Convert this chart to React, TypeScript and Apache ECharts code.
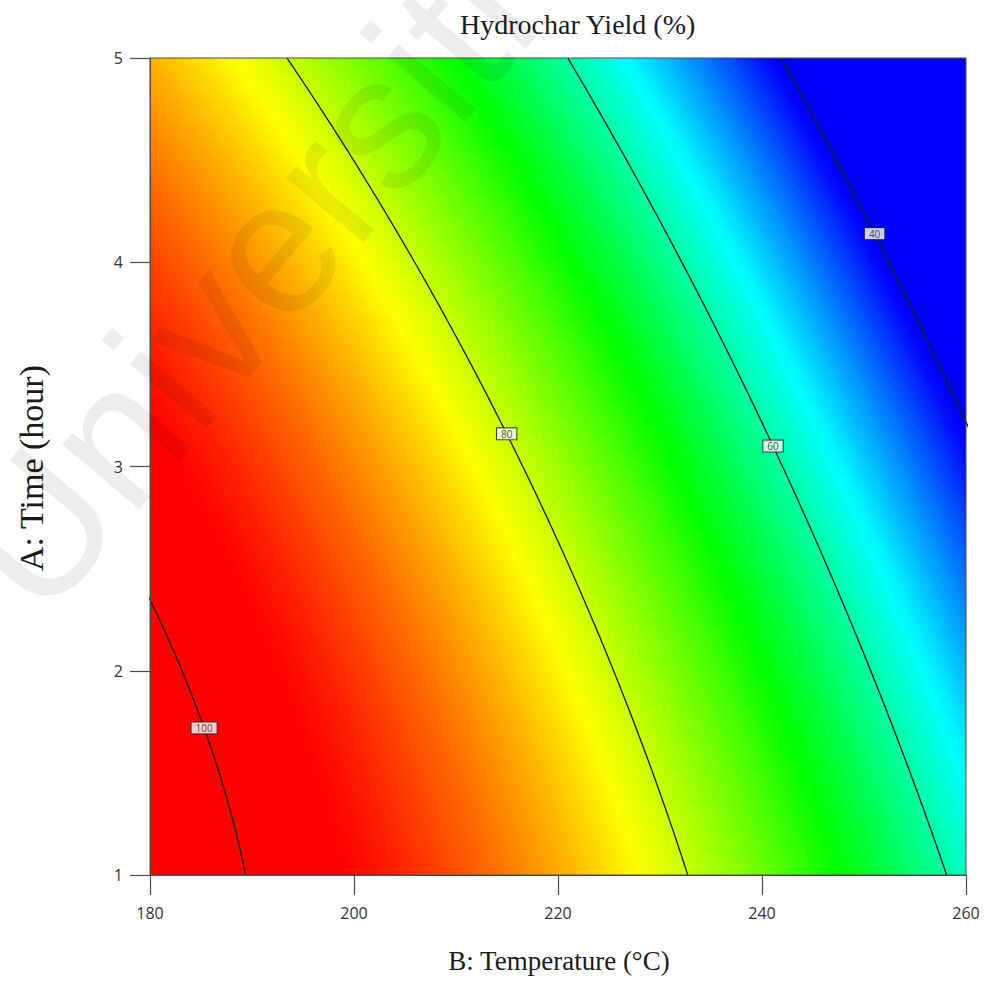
import React, { useEffect, useRef } from "react";
import * as echarts from "echarts";

// Axis ticks
const temperatureTicks = [180, 200, 220, 240, 260];
const timeTicks = [1, 2, 3, 4, 5];

// Contour levels of hydrochar yield (%) and the time (h) at which each label sits
const contourLevels = [100, 80, 60, 40];
const contourLabelTimes = [1.72, 3.16, 3.1, 4.14];

// Quadratic response surface in coded units: B = (T - 220) / 40, A = (t - 3) / 2
const modelTerms = ["Intercept", "B", "A", "AB", "B^2", "A^2"];
const modelCoefficients = [77.65, -27.89, -13.45, -6.03, -7.6, -3.38];

// Colour scale: yield anchors and their colours (blue -> cyan -> green -> yellow -> red)
const colourAnchors = [41, 55, 69, 83, 97];
const colourRGB = [
  [0, 0, 255],
  [0, 255, 255],
  [0, 255, 0],
  [255, 255, 0],
  [255, 0, 0],
];

const T_MIN = temperatureTicks[0];
const T_MAX = temperatureTicks[temperatureTicks.length - 1];
const t_MIN = timeTicks[0];
const t_MAX = timeTicks[timeTicks.length - 1];

const coef = (name: string) => modelCoefficients[modelTerms.indexOf(name)];

function yieldAt(T: number, t: number): number {
  const b = (T - 220) / 40;
  const a = (t - 3) / 2;
  return (
    coef("Intercept") +
    coef("B") * b +
    coef("A") * a +
    coef("AB") * a * b +
    coef("B^2") * b * b +
    coef("A^2") * a * a
  );
}

// Temperature where the surface equals `level` at time t
function temperatureOnContour(level: number, t: number): number | null {
  const a = (t - 3) / 2;
  const qa = coef("B^2");
  const qb = coef("B") + coef("AB") * a;
  const qc = coef("Intercept") + coef("A") * a + coef("A^2") * a * a - level;
  const disc = qb * qb - 4 * qa * qc;
  if (disc < 0) return null;
  const r1 = (-qb + Math.sqrt(disc)) / (2 * qa);
  const r2 = (-qb - Math.sqrt(disc)) / (2 * qa);
  const b = Math.abs(r1) < Math.abs(r2) ? r1 : r2;
  return 220 + 40 * b;
}

function colourFor(v: number): string {
  const n = colourAnchors.length;
  if (v <= colourAnchors[0]) return `rgb(${colourRGB[0].join(",")})`;
  if (v >= colourAnchors[n - 1]) return `rgb(${colourRGB[n - 1].join(",")})`;
  let i = 0;
  while (v > colourAnchors[i + 1]) i++;
  const f = (v - colourAnchors[i]) / (colourAnchors[i + 1] - colourAnchors[i]);
  const c = colourRGB[i].map((c0, k) => Math.round(c0 + (colourRGB[i + 1][k] - c0) * f));
  return `rgb(${c.join(",")})`;
}

export default function App() {
  const ref = useRef<HTMLDivElement>(null);

  useEffect(() => {
    if (!ref.current) return;
    const chart = echarts.init(ref.current, null, { renderer: "svg" });

    // Colour field drawn as thin horizontal bands, each with a gradient across temperature
    const bandStep = 0.02;
    const bandRows: number[][] = [];
    for (let i = 0; i <= Math.round((t_MAX - t_MIN) / bandStep); i++) {
      bandRows.push([T_MIN, t_MIN + i * bandStep]);
    }
    const gradientSamples = 80;

    const contourSeries = contourLevels.map((level) => {
      const pts: number[][] = [];
      for (let i = 0; i <= 400; i++) {
        const t = t_MIN + (i * (t_MAX - t_MIN)) / 400;
        const T = temperatureOnContour(level, t);
        if (T !== null && T > T_MIN - 15 && T < T_MAX + 15) pts.push([T, t]);
      }
      return {
        type: "line",
        data: pts,
        showSymbol: false,
        symbol: "none",
        clip: true,
        z: 3,
        silent: true,
        lineStyle: { color: "#1c1c1c", width: 1.3 },
      };
    });

    const labelPoints = contourLevels.map((level, i) => {
      const t = contourLabelTimes[i];
      const T = temperatureOnContour(level, t) as number;
      return [T, t, level];
    });

    const option: any = {
      animation: false,
      backgroundColor: "#ffffff",
      grid: {
        left: 150,
        top: 58,
        width: 816,
        height: 817,
        show: true,
        borderColor: "#4a4a4a",
        borderWidth: 1,
        backgroundColor: "transparent",
        z: 4,
      },
      xAxis: {
        type: "value",
        min: T_MIN,
        max: T_MAX,
        interval: 20,
        axisLine: { show: true, lineStyle: { color: "#4a4a4a", width: 1 } },
        axisTick: { show: true, inside: false, length: 20, lineStyle: { color: "#4a4a4a", width: 1.2 } },
        axisLabel: {
          margin: 30,
          color: "#333",
          fontFamily: "Open Sans",
          fontSize: 16,
        },
        splitLine: { show: false },
        z: 5,
      },
      yAxis: {
        type: "value",
        min: t_MIN,
        max: t_MAX,
        interval: 1,
        axisLine: { show: true, lineStyle: { color: "#4a4a4a", width: 1 } },
        axisTick: { show: true, inside: false, length: 20, lineStyle: { color: "#4a4a4a", width: 1.2 } },
        axisLabel: {
          margin: 27,
          color: "#333",
          fontFamily: "Open Sans",
          fontSize: 16,
        },
        splitLine: { show: false },
        z: 5,
      },
      series: [
        {
          type: "custom",
          data: bandRows,
          clip: true,
          silent: true,
          z: 1,
          renderItem: (params: any, api: any) => {
            const t = api.value(1);
            const top = api.coord([T_MIN, t + bandStep / 2]);
            const bottom = api.coord([T_MAX, t - bandStep / 2]);
            const stops = [];
            for (let k = 0; k <= gradientSamples; k++) {
              const T = T_MIN + ((T_MAX - T_MIN) * k) / gradientSamples;
              stops.push({ offset: k / gradientSamples, color: colourFor(yieldAt(T, t)) });
            }
            return {
              type: "rect",
              shape: {
                x: top[0],
                y: top[1] - 0.6,
                width: bottom[0] - top[0],
                height: bottom[1] - top[1] + 1.2,
              },
              style: { fill: new echarts.graphic.LinearGradient(0, 0, 1, 0, stops), stroke: null },
            };
          },
        },
        ...contourSeries,
        {
          type: "scatter",
          data: labelPoints,
          symbolSize: 1,
          itemStyle: { color: "transparent" },
          z: 6,
          silent: true,
          label: {
            show: true,
            position: "inside",
            formatter: (p: any) => String(p.value[2]),
            fontFamily: "Open Sans",
            fontSize: 10,
            color: "#1a1a1a",
            backgroundColor: "#ffffff",
            borderColor: "#222",
            borderWidth: 1,
            padding: [1, 4, 0, 4],
          },
        },
      ],
      graphic: [
        {
          type: "text",
          left: 460,
          top: 10,
          style: {
            text: "Hydrochar Yield (%)",
            font: "28px 'Liberation Serif'",
            fill: "#1a1a1a",
          },
        },
        {
          type: "text",
          x: 559,
          y: 961,
          style: {
            text: "B: Temperature (°C)",
            font: "27px 'Liberation Serif'",
            fill: "#1a1a1a",
            align: "center",
            verticalAlign: "middle",
          },
        },
        {
          type: "text",
          x: 31,
          y: 468,
          rotation: Math.PI / 2,
          style: {
            text: "A: Time (hour)",
            font: "34px 'Liberation Serif'",
            fill: "#1a1a1a",
            align: "center",
            verticalAlign: "middle",
          },
        },
        {
          type: "text",
          x: -8,
          y: 582,
          rotation: (50 * Math.PI) / 180,
          silent: true,
          z: 100,
          style: {
            text: "Universiti",
            font: "190px 'Liberation Sans'",
            fill: "rgba(0,0,0,0.07)",
            align: "left",
            verticalAlign: "middle",
          },
        },
      ],
    };

    chart.setOption(option);
    return () => chart.dispose();
  }, []);

  return (
    <div
      ref={ref}
      style={{ position: "fixed", left: 0, top: 0, width: 985, height: 983 }}
    />
  );
}
